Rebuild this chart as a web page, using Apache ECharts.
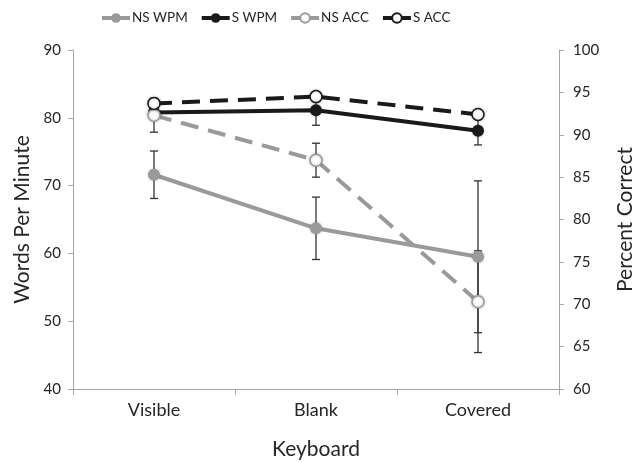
<!DOCTYPE html>
<html><head><meta charset="utf-8">
<script src="https://cdn.jsdelivr.net/npm/echarts@6/dist/echarts.min.js"></script>
<style>html,body{margin:0;padding:0;background:#fff}#c{width:643px;height:462px}</style>
</head><body><div id="c"></div>
<script>
var categories = ['Visible', 'Blank', 'Covered'];
var nsWpm = [71.6, 63.7, 59.5];
var sWpm = [80.8, 81.1, 78.1];
var nsAcc = [92.3, 87.0, 70.3];
var sAcc = [93.7, 94.5, 92.4];
var nsWpmErr = [3.5, 4.6, 11.2];
var sWpmErr = [1.0, 2.2, 2.1];
var nsAccErr = [2.0, 2.0, 6.0];
var leftTicks = [40, 50, 60, 70, 80, 90];
var rightTicks = [60, 65, 70, 75, 80, 85, 90, 95, 100];

var GRAY = '#9a9a9a', BLACK = '#1a1a1a', FONT = 'Lato', TXT = '#262626';

function errData(vals, errs) {
  return vals.map(function (v, i) { return [i, v - errs[i], v + errs[i]]; });
}
function errSeries(vals, errs, axisIdx) {
  return {
    type: 'custom', yAxisIndex: axisIdx, z: 1, silent: true,
    data: errData(vals, errs),
    renderItem: function (params, api) {
      var lo = api.coord([api.value(0), api.value(1)]);
      var hi = api.coord([api.value(0), api.value(2)]);
      var w = 4;
      var st = { stroke: '#333', lineWidth: 1.3 };
      return { type: 'group', children: [
        { type: 'line', shape: { x1: lo[0], y1: lo[1], x2: hi[0], y2: hi[1] }, style: st },
        { type: 'line', shape: { x1: lo[0] - w, y1: lo[1], x2: lo[0] + w, y2: lo[1] }, style: st },
        { type: 'line', shape: { x1: hi[0] - w, y1: hi[1], x2: hi[0] + w, y2: hi[1] }, style: st }
      ]};
    }
  };
}
function lineSeries(name, data, axisIdx, color, dashed, hollow) {
  return {
    name: name, type: 'line', yAxisIndex: axisIdx, data: data, z: 3,
    symbol: 'circle', symbolSize: 12,
    lineStyle: { color: color, width: 4, type: dashed ? [18, 10] : 'solid', cap: 'butt' },
    itemStyle: hollow ? { color: '#fff', borderColor: color, borderWidth: 1.5, shadowBlur: 3, shadowColor: 'rgba(0,0,0,0.25)' }
                      : { color: color, borderColor: color, borderWidth: 0, shadowBlur: 3, shadowColor: 'rgba(0,0,0,0.25)' },
    emphasis: { disabled: true }
  };
}

var chart = echarts.init(document.getElementById('c'), null, { renderer: 'canvas' });
chart.setOption({
  animation: false,
  textStyle: { fontFamily: FONT },
  grid: { left: 73, right: 84, top: 50, bottom: 73, outerBoundsMode: 'none', containLabel: false },
  legend: {
    top: 11, left: 100, padding: 0, itemWidth: 28, itemHeight: 12, itemGap: 12,
    lineStyle: { width: 4, type: 'solid' },
    textStyle: { fontFamily: FONT, fontSize: 13.5, color: TXT, padding: [0, 0, 0, -3] },
    data: ['NS WPM', 'S WPM', 'NS ACC', 'S ACC']
  },
  xAxis: {
    type: 'category', data: categories, boundaryGap: true,
    name: 'Keyboard', nameLocation: 'middle', nameGap: 50,
    nameTextStyle: { fontFamily: FONT, fontSize: 21, color: TXT },
    axisLine: { lineStyle: { color: '#a6a6a6', width: 1 } },
    axisTick: { show: true, length: 6, lineStyle: { color: '#a6a6a6' } },
    axisLabel: { fontFamily: FONT, fontSize: 18, color: TXT, margin: 12 }
  },
  yAxis: [{
    type: 'value', min: leftTicks[0], max: leftTicks[leftTicks.length - 1], interval: 10,
    name: 'Words Per Minute', nameLocation: 'middle', nameGap: 38, nameRotate: 90,
    nameTextStyle: { fontFamily: FONT, fontSize: 21, color: TXT },
    axisLine: { show: true, lineStyle: { color: '#a6a6a6' } },
    axisTick: { show: true, length: 5, lineStyle: { color: '#a6a6a6' } },
    splitLine: { show: false },
    axisLabel: { fontFamily: FONT, fontSize: 15, color: TXT, margin: 12 }
  }, {
    type: 'value', min: rightTicks[0], max: rightTicks[rightTicks.length - 1], interval: 5,
    name: 'Percent Correct', nameLocation: 'middle', nameGap: 56, nameRotate: 90,
    nameTextStyle: { fontFamily: FONT, fontSize: 21, color: TXT },
    axisLine: { show: true, lineStyle: { color: '#a6a6a6' } },
    axisTick: { show: true, length: 5, lineStyle: { color: '#a6a6a6' } },
    splitLine: { show: false },
    axisLabel: { fontFamily: FONT, fontSize: 15, color: TXT, margin: 14 }
  }],
  series: [
    errSeries(nsWpm, nsWpmErr, 0),
    errSeries(sWpm, sWpmErr, 0),
    errSeries(nsAcc, nsAccErr, 1),
    lineSeries('NS WPM', nsWpm, 0, GRAY, false, false),
    lineSeries('S WPM', sWpm, 0, BLACK, false, false),
    lineSeries('NS ACC', nsAcc, 1, GRAY, true, true),
    lineSeries('S ACC', sAcc, 1, BLACK, true, true)
  ]
});
</script></body></html>
